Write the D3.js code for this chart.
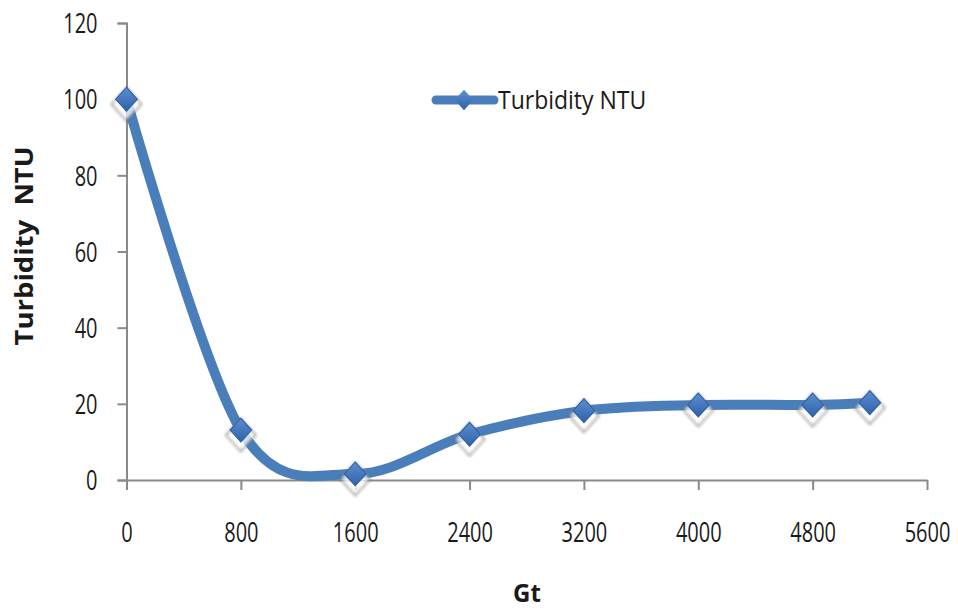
<!DOCTYPE html>
<html>
<head>
<meta charset="utf-8">
<script src="https://cdn.jsdelivr.net/npm/d3@7"></script>
<style>
  html, body { margin: 0; padding: 0; background: #fff; }
  svg { display: block; }
  text { font-family: "Open Sans", "Liberation Sans", sans-serif; fill: #1a1a1a; }
</style>
</head>
<body>
<svg id="chart" width="958" height="610"></svg>
<script>
// Turbidity against velocity gradient × time (Gt)
const gtValues = [0, 800, 1600, 2400, 3200, 4000, 4800, 5200];
const turbidity = [100, 13.1, 1.6, 12, 18.2, 19.7, 19.7, 20.3];
const xTicks = [0, 800, 1600, 2400, 3200, 4000, 4800, 5600];
const yTicks = [0, 20, 40, 60, 80, 100, 120];
const seriesName = "Turbidity NTU";

const svg = d3.select("#chart");
const x = d3.scaleLinear().domain([0, 5600]).range([126.5, 927]);
const y = d3.scaleLinear().domain([0, 120]).range([480, 23]);
const axisColor = "#8a8a8a";
const lineColor = "#4a7ebb";
const tall = 1.4; // vertical stretch of the condensed label face

// marker gradient + soft halo
const defs = svg.append("defs");
const grad = defs.append("linearGradient").attr("id", "mk").attr("x1", 0).attr("y1", 0).attr("x2", 0).attr("y2", 1);
grad.append("stop").attr("offset", "0%").attr("stop-color", "#5b8fd0");
grad.append("stop").attr("offset", "100%").attr("stop-color", "#2f62a8");
const blur = defs.append("filter").attr("id", "halo").attr("x", "-50%").attr("y", "-50%").attr("width", "200%").attr("height", "200%");
blur.append("feGaussianBlur").attr("stdDeviation", 1.6);

// y axis
const yAxis = svg.append("g").attr("transform", `translate(${x(0)},0)`)
  .call(d3.axisLeft(y).tickValues(yTicks).tickFormat(d3.format("d")).tickSize(9).tickPadding(20).tickSizeOuter(9));
// x axis
const xAxis = svg.append("g").attr("transform", `translate(0,${y(0)})`)
  .call(d3.axisBottom(x).tickValues(xTicks).tickFormat(d3.format("d")).tickSize(10).tickPadding(30).tickSizeOuter(0));
[yAxis, xAxis].forEach(a => {
  a.selectAll("path, line").attr("stroke", axisColor).attr("stroke-width", 2);
  a.selectAll("text").style("font-size", "20px").attr("fill", "#1a1a1a");
});
yAxis.selectAll("text").attr("y", 0).attr("dy", "0.35em").attr("transform", `scale(1,${tall})`);
xAxis.selectAll("text").attr("y", 0).attr("dy", "0.35em").attr("transform", `translate(0,52) scale(1,${tall})`);

// axis titles
svg.append("text").attr("transform", "translate(527,602) scale(1,1.05)").attr("text-anchor", "middle")
  .style("font-size", "24px").style("font-weight", "bold").text("Gt");
svg.append("text").attr("transform", "translate(33,246) rotate(-90) scale(1.1,1)").attr("text-anchor", "middle")
  .style("font-size", "25px").style("font-weight", "bold").attr("xml:space", "preserve").text("Turbidity  NTU");

// smoothed series line
const pts = gtValues.map((g, i) => [g, turbidity[i]]);
const line = d3.line().x(d => x(d[0])).y(d => y(d[1])).curve(d3.curveCardinal.tension(0));
svg.append("path").datum(pts).attr("d", line).attr("fill", "none")
  .attr("stroke", lineColor).attr("stroke-width", 10).attr("stroke-linejoin", "round");

// diamond markers
const mk = svg.append("g").selectAll("g").data(pts).join("g")
  .attr("transform", d => `translate(${x(d[0])},${y(d[1])})`);
mk.append("path").attr("d", d3.symbol().type(d3.symbolDiamond2).size(560)())
  .attr("transform", "translate(0,5) scale(1,1.1)").attr("fill", "#ffffff").attr("stroke", "#555").attr("stroke-width", 1.5)
  .attr("filter", "url(#halo)").attr("opacity", 0.75);
mk.append("path").attr("d", d3.symbol().type(d3.symbolDiamond2).size(300)())
  .attr("transform", "scale(1,1.1)").attr("fill", "url(#mk)").attr("stroke", "#2c5d9e").attr("stroke-width", 1);

// legend
const lg = svg.append("g").attr("transform", "translate(436,100)");
lg.append("line").attr("x1", 0).attr("x2", 58).attr("stroke", lineColor).attr("stroke-width", 9).attr("stroke-linecap", "round");
lg.append("path").attr("transform", "translate(28,0) scale(1,1.1)").attr("d", d3.symbol().type(d3.symbolDiamond2).size(220)()).attr("fill", "url(#mk)");
lg.append("text").attr("transform", "translate(62,0) scale(1,1.1)").attr("dy", "0.35em").style("font-size", "23px").text(seriesName);
</script>
</body>
</html>
